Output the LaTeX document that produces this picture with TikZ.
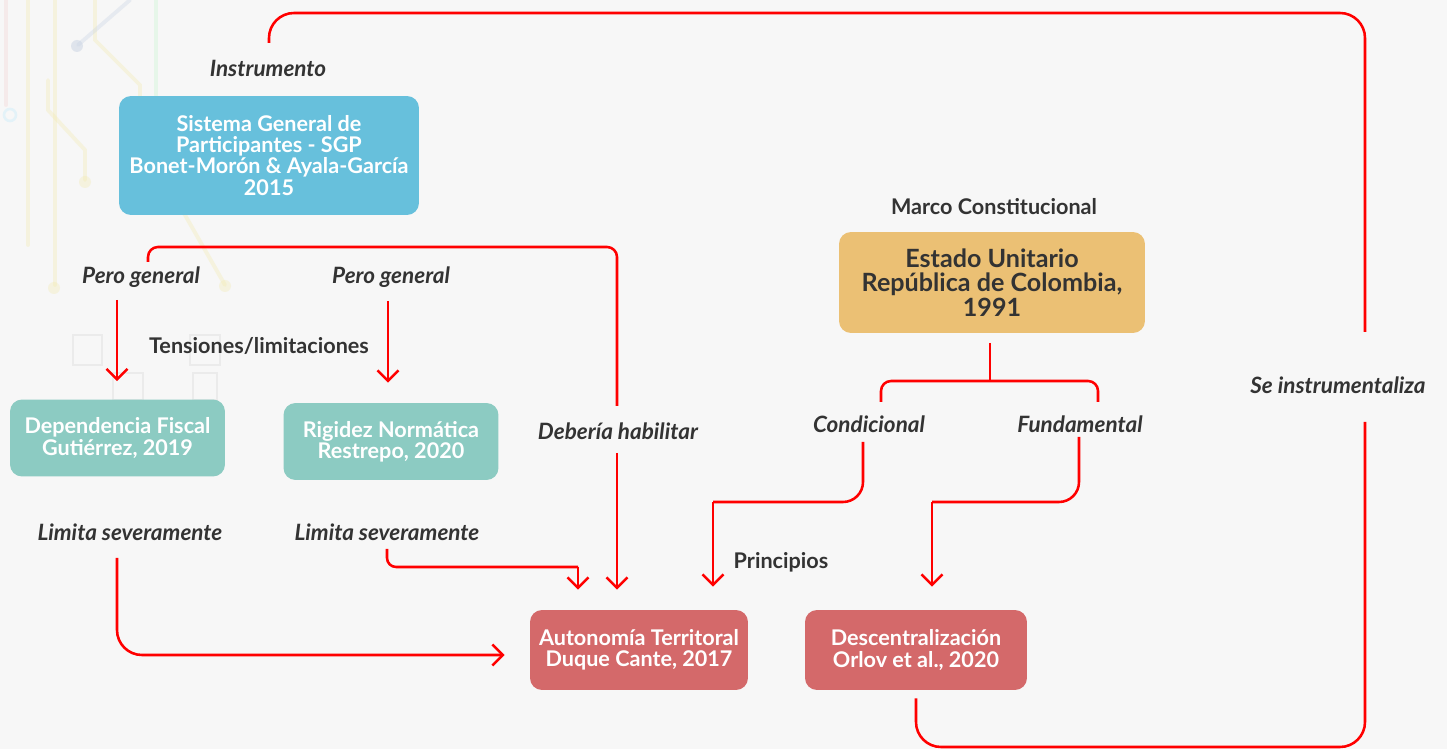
\documentclass[tikz,border=0pt]{standalone}
\usepackage{fontspec}
\setmainfont{Lato}
\usetikzlibrary{arrows.meta,calc}

\definecolor{bgcol}{HTML}{F7F7F7}
\definecolor{linkred}{HTML}{FF0000}
\definecolor{sgpblue}{HTML}{67C0DC}
\definecolor{tealbox}{HTML}{8CCBC2}
\definecolor{redbox}{HTML}{D4696A}
\definecolor{goldbox}{HTML}{EBC074}
\definecolor{txtdark}{HTML}{333333}
\definecolor{decoyel}{HTML}{F3EBB0}
\definecolor{decoblue}{HTML}{C9D3E3}
\definecolor{decopink}{HTML}{F4D2D2}
\definecolor{decogray}{HTML}{E6E6E6}

\tikzset{
  box/.style={rounded corners=0.24cm, inner sep=2pt, align=center, text=white,
    font=\fontsize{12.3}{12}\selectfont\bfseries},
  lbl/.style={inner sep=0pt, text=txtdark, font=\fontsize{12.8}{13}\selectfont\bfseries\itshape},
  lblup/.style={inner sep=0pt, text=txtdark, font=\fontsize{12.3}{13}\selectfont\bfseries},
  conn/.style={draw=linkred, line width=1.45pt},
  arr/.style={conn, -{Straight Barb[length=6pt,width=12pt,line width=1.45pt]}},
  deco/.style={line width=2.2pt, line cap=round, opacity=.35},
}

\begin{document}
\begin{tikzpicture}[x=0.02cm, y=-0.02cm]
% canvas
\fill[bgcol] (0,0) rectangle (1447,749);
\useasboundingbox (0,0) rectangle (1447,749);

% faint circuit ornament, upper left
\draw[deco, decopink] (6,0) -- (6,105);
\draw[deco, decoyel] (28,0) -- (28,245);
\draw[deco, decoyel] (55,0) -- (55,285);
\fill[decoyel, opacity=.35] (54,288) circle (6);
\draw[deco, decoyel] (95,0) -- (95,40) -- (140,85) -- (140,170) -- (185,215) -- (225,285);
\fill[decoyel, opacity=.35] (225,286) circle (6);
\draw[deco, decoyel] (48,80) -- (48,110) -- (85,150) -- (85,180);
\fill[decoyel, opacity=.35] (85,182) circle (6);
\draw[deco, decoblue] (130,0) -- (78,45);
\fill[decoblue, opacity=.5] (77,46) circle (6);
\draw[deco, decoblue!60!green!40] (156,0) -- (156,95);
\draw[line width=1.5pt, cyan!25, opacity=.35] (10,115) circle (6);
\draw[line width=1.2pt, decogray, opacity=.7] (73,335) rectangle (102,365);
\draw[line width=1.2pt, decogray, opacity=.7] (190,335) rectangle (220,365);
\draw[line width=1.2pt, decogray, opacity=.7] (113,373) rectangle (143,400);
\draw[line width=1.2pt, decogray, opacity=.7] (193,373) rectangle (217,400);

% boxes
\node[box, fill=sgpblue, minimum width=6cm, minimum height=2.38cm] (sgp) at (269,155.5)
  {Sistema General de\\Participantes - SGP\\Bonet-Morón \& Ayala-García\\2015};
\node[box, fill=tealbox, minimum width=4.3cm, minimum height=1.54cm] (dep) at (117.5,438)
  {Dependencia Fiscal\\Gutiérrez, 2019};
\node[box, fill=tealbox, minimum width=4.3cm, minimum height=1.54cm] (rig) at (391,441.5)
  {Rigidez Normática\\Restrepo, 2020};
\node[box, fill=redbox, minimum width=4.36cm, minimum height=1.6cm] (aut) at (639,650)
  {Autonomía Territoral\\Duque Cante, 2017};
\node[box, fill=redbox, minimum width=4.44cm, minimum height=1.6cm] (desc) at (916,650)
  {Descentralización\\Orlov et al., 2020};
\node[box, fill=goldbox, text=txtdark, minimum width=6.12cm, minimum height=2.02cm,
  font=\fontsize{14.3}{13.8}\selectfont\bfseries] (est) at (992,282.5)
  {Estado Unitario\\República de Colombia,\\1991};

% connector labels
\node[lbl] (instr) at (268,68) {Instrumento};
\node[lbl] (pg1) at (141,277) {Pero general};
\node[lbl] (pg2) at (391,277) {Pero general};
\node[lblup] (tens) at (259,346) {Tensiones/limitaciones};
\node[lbl] (deb) at (618,431) {Debería habilitar};
\node[lblup] (marco) at (994,207) {Marco Constitucional};
\node[lbl] (cond) at (869,424) {Condicional};
\node[lbl] (fund) at (1080,424) {Fundamental};
\node[lbl] (lim1) at (130,532) {Limita severamente};
\node[lbl] (lim2) at (387,532) {Limita severamente};
\node[lblup] (prin) at (781,562) {Principios};
\node[lbl] (seinst) at (1338,385) {Se instrumentaliza};

% connector end points
\coordinate (instrT) at (269,43);
\coordinate (seiT) at (1365,332);
\coordinate (seiB) at (1365,422);
\coordinate (pg1T) at (148,262);
\coordinate (debT) at (617,406);
\coordinate (debB) at (617,453);
\coordinate (pg1B) at (117,300);
\coordinate (pg2B) at (388,301);
\coordinate (lim1B) at (117,558);
\coordinate (lim2B) at (387,549);
\coordinate (rigTurn) at (578,567);
\coordinate (estB) at (990,343);
\coordinate (estJ) at (990,381);
\coordinate (condT) at (881,402);
\coordinate (fundT) at (1098,402);
\coordinate (condB) at (863,442);
\coordinate (condTurn) at (713,502);
\coordinate (fundB) at (1079,437);
\coordinate (fundTurn) at (932,502);

% outer loop: Descentralización -> Se instrumentaliza -> Instrumento
\draw[conn, rounded corners=0.5cm] ([yshift=-0.16cm]desc.south) -- (916,747) -- (1365,747) -- (seiB);
\draw[conn, rounded corners=0.5cm] (seiT) -- (1365,13) -- (269,13) -- (instrT);

% SGP branches
\draw[conn, rounded corners=0.2cm] (pg1T) -- (148,247) -- (617,247) -- (debT);
\draw[arr, shorten >=0.4cm] (debB) -- (debB |- aut.north);
\draw[arr, shorten >=0.36cm] (pg1B) -- (pg1B |- dep.north);
\draw[arr, shorten >=0.4cm] (pg2B) -- (pg2B |- rig.north);

% limitations into Autonomía
\draw[arr, rounded corners=0.5cm, shorten >=0.5cm] (lim1B) |- ([yshift=-0.1cm]aut.west);
\draw[conn, rounded corners=0.18cm] (lim2B) |- (rigTurn);
\draw[arr, shorten >=0.4cm] (rigTurn) -- (rigTurn |- aut.north);

% constitutional frame
\draw[conn] (estB) -- (estJ);
\draw[conn, rounded corners=0.2cm] (condT) -- (881,381) -- (1098,381) -- (fundT);
\draw[conn, rounded corners=0.4cm] (condB) |- (condTurn);
\draw[arr, shorten >=0.46cm] (condTurn) -- (condTurn |- aut.north);
\draw[conn, rounded corners=0.4cm] (fundB) |- (fundTurn);
\draw[arr, shorten >=0.46cm] (fundTurn) -- (fundTurn |- desc.north);
\end{tikzpicture}
\end{document}
